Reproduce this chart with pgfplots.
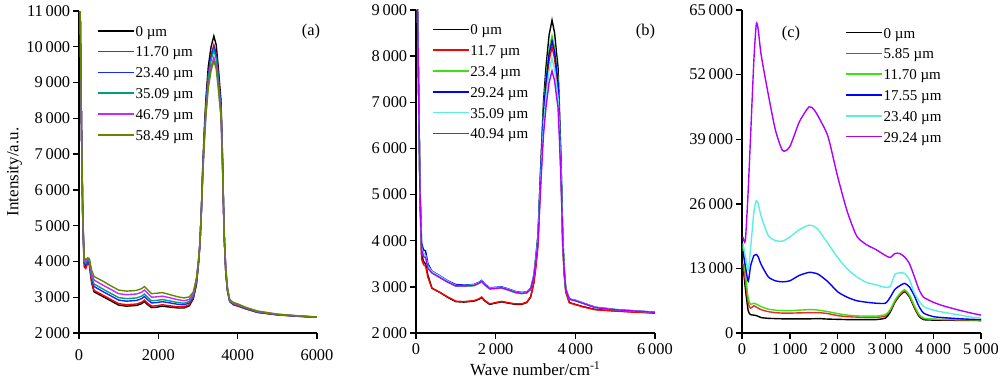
\documentclass[border=0pt]{standalone}
\usepackage{fontspec}
\setmainfont{Liberation Serif}
\usepackage{pgfplots}
\pgfplotsset{compat=1.18}
\usepackage{pgfplotstable}

\definecolor{aRed}{RGB}{255,0,0}
\definecolor{aBlue}{RGB}{20,40,255}
\definecolor{aTeal}{RGB}{0,160,120}
\definecolor{aMag}{RGB}{200,40,255}
\definecolor{aOlive}{RGB}{100,135,0}
\definecolor{bGreen}{RGB}{60,225,20}
\definecolor{bBlue}{RGB}{0,0,255}
\definecolor{bCyan}{RGB}{90,240,220}
\definecolor{bViol}{RGB}{175,0,255}
\definecolor{cRed}{RGB}{240,40,40}

\pgfplotstableread{
x a0 a1 a2 a3 a4 a5
25 11500 11500 11500 11500 11500 11500
60 8000 8000 8000 8000 8000 8000
95 5200 5100 5200 5250 5300 5350
130 4000 3850 3950 4000 4050 4100
170 3850 3800 3900 3950 4000 4050
220 4000 3950 4020 4050 4080 4100
260 3950 3900 3950 4000 4050 4080
320 3400 3420 3500 3560 3650 3750
380 3150 3190 3300 3370 3480 3580
600 3020 3060 3160 3230 3340 3450
800 2900 2940 3040 3110 3220 3320
1000 2780 2820 2920 2990 3100 3200
1200 2750 2790 2890 2960 3070 3170
1450 2770 2810 2910 2980 3090 3190
1580 2820 2860 2960 3030 3140 3240
1650 2880 2920 3020 3090 3200 3300
1720 2800 2840 2940 3010 3120 3220
1830 2710 2750 2840 2900 3000 3100
1950 2720 2760 2850 2910 3010 3110
2100 2750 2790 2875 2935 3030 3130
2250 2730 2765 2850 2905 2995 3085
2500 2700 2730 2800 2850 2930 3010
2650 2700 2730 2790 2830 2900 2980
2780 2760 2790 2840 2880 2940 3010
2880 2950 2980 3010 3040 3090 3140
2960 3350 3378 3421 3460 3491 3530
3010 3900 3906 3942 3970 3982 4010
3050 4500 4482 4510 4526 4518 4534
3090 5600 5538 5552 5546 5500 5494
3120 6650 6546 6546 6519 6438 6411
3160 7700 7554 7540 7492 7376 7328
3200 8550 8370 8345 8280 8135 8070
3260 9450 9234 9198 9115 8938 8855
3330 10000 9762 9718 9624 9430 9336
3400 10300 10050 10000 9900 9700 9600
3460 10050 9810 9766 9671 9474 9379
3510 9450 9234 9198 9115 8938 8855
3550 8900 8706 8677 8605 8447 8375
3580 8500 8322 8298 8234 8090 8026
3610 7300 7170 7162 7122 7019 6979
3625 6600 6498 6499 6473 6393 6367
3645 5500 5442 5457 5453 5411 5407
3665 4600 4578 4605 4619 4607 4621
3700 3700 3714 3752 3784 3804 3836
3740 3200 3210 3230 3250 3270 3290
3800 2880 2880 2890 2900 2910 2930
3900 2790 2790 2800 2815 2830 2850
4000 2760 2755 2770 2785 2800 2815
4200 2680 2675 2690 2700 2710 2720
4500 2580 2575 2585 2595 2605 2615
5000 2510 2505 2512 2518 2522 2528
5500 2470 2468 2472 2476 2480 2484
6000 2440 2440 2442 2444 2446 2448
}\tableA

\pgfplotstableread{
x b0 b1 b2 b3 b4 b5
30 9500 9500 9500 9500 9500 9500
70 7000 7000 7000 7000 7000 7000
100 5000 4900 5100 5150 5100 5050
140 3700 3600 3900 3950 3850 3800
190 3550 3480 3720 3800 3700 3650
240 3500 3450 3700 3780 3680 3640
300 3250 3200 3450 3500 3450 3400
400 2970 2970 3320 3340 3330 3300
600 2880 2880 3220 3240 3230 3200
800 2770 2780 3110 3130 3120 3100
1000 2680 2690 3010 3050 3030 3020
1200 2670 2680 3010 3040 3030 3020
1450 2690 2700 3020 3050 3040 3030
1580 2730 2740 3070 3100 3090 3080
1650 2770 2780 3110 3140 3130 3120
1720 2700 2710 3040 3070 3060 3050
1850 2620 2630 2950 2980 2970 2960
2000 2650 2660 2960 2990 2980 2970
2150 2675 2685 2970 3000 2990 2980
2300 2650 2660 2930 2960 2950 2940
2500 2620 2630 2870 2900 2890 2880
2650 2620 2630 2850 2880 2870 2860
2780 2660 2670 2870 2890 2880 2870
2880 2780 2790 2950 2970 2960 2950
2960 3100 3100 3250 3260 3250 3230
3010 3500 3419 3668 3671 3609 3563
3063 4015 3885 4134 4125 4032 3965
3100 4900 4686 4934 4907 4760 4655
3138 5750 5456 5702 5657 5458 5318
3200 7000 6587 6832 6761 6486 6293
3264 7770 7284 7528 7441 7119 6894
3340 8450 7899 8143 8041 7678 7424
3415 8780 8200 8440 8330 7950 7680
3480 8500 7944 8188 8086 7719 7463
3530 8050 7537 7782 7688 7349 7112
3565 7770 7284 7528 7441 7119 6894
3600 6900 6496 6742 6673 6404 6215
3640 5750 5456 5702 5657 5458 5318
3665 4800 4596 4844 4818 4677 4577
3683 4015 3885 4134 4125 4032 3965
3720 3300 3280 3400 3420 3400 3380
3760 2900 2880 2950 2960 2950 2940
3850 2660 2655 2730 2740 2735 2730
4000 2620 2615 2700 2710 2705 2700
4200 2570 2565 2640 2650 2645 2640
4500 2510 2505 2550 2560 2555 2550
5000 2480 2475 2505 2510 2508 2505
5500 2455 2452 2475 2480 2478 2475
6000 2435 2432 2450 2452 2450 2448
}\tableB

\pgfplotstableread{
x c0 c1 c2 c3 c4 c5
20 13800 14000 17500 16500 18000 19300
70 9000 10500 12000 13500 15500 18600
130 4500 6000 7000 10400 12700 28800
180 3700 5000 5800 13500 17000 39800
250 3600 5500 6000 15600 24500 55200
300 3500 5200 5800 15800 26600 62200
340 3350 5000 5600 15300 26000 61000
400 3100 4700 5300 13800 23500 56000
550 2950 4300 4800 11300 19600 48000
700 2900 4100 4600 10500 18600 40800
850 2850 4000 4500 10300 18500 36700
1000 2850 4000 4500 10500 19300 37500
1200 2850 4050 4600 11600 20800 42500
1400 2850 4100 4700 12200 21700 45500
1500 2870 4100 4700 12100 21500 45000
1600 2900 4100 4600 11800 20700 43500
1800 2800 3900 4300 10300 18000 39500
2000 2750 3500 3900 8300 15200 31500
2200 2700 3300 3600 7200 12900 24500
2400 2700 3200 3450 6500 11300 19500
2600 2700 3150 3400 6200 10200 17800
2800 2700 3150 3400 6000 9700 16800
3000 3000 3400 3700 6000 9200 15600
3100 4200 4500 4700 7200 9400 15200
3200 6200 6400 6600 8800 11800 16000
3300 7500 7700 7900 9500 12100 16000
3400 8300 8500 8700 10000 12000 15300
3500 7300 7500 7700 9300 10800 14000
3600 5200 5400 5600 7600 8200 11500
3700 3400 3600 3800 5400 6500 8800
3800 2700 2900 3000 4000 5300 7200
4000 2600 2750 2800 3300 4600 6200
4200 2580 2700 2750 3100 4200 5500
4500 2550 2650 2700 2900 3700 4700
4800 2520 2620 2650 2750 3200 4000
5000 2500 2600 2600 2700 3000 3600
}\tableC

\pgfplotsset{
  panel/.style={
    scale only axis, clip mode=individual,
    axis x line*=bottom, axis y line*=left,
    axis line style={-, line width=0.7pt},
    tick align=outside, major tick length=3pt,
    tick style={line width=0.7pt, black},
    scaled ticks=false,
    /pgf/number format/assume math mode=true,
    /pgf/number format/1000 sep={\,},
    tick label style={font=\fontsize{8.2}{10}\selectfont, inner sep=1.2pt},
    xticklabel style={yshift=-0.8pt},
    label style={font=\fontsize{8.5}{10}\selectfont},
    legend cell align=left,
    legend style={draw=none, fill=none, font=\fontsize{7.5}{9}\selectfont,
      anchor=north west, inner sep=0pt, outer sep=0pt, row sep=0pt,
      nodes={inner sep=0.5pt, text height=7.4pt, text depth=2pt}},
    legend image code/.code={\draw[##1, line width=0.8pt] (0pt,0pt) -- (18pt,0pt);},
    every axis plot/.append style={line width=0.7pt, mark=none},
  }
}

\begin{document}
\begin{tikzpicture}
\useasboundingbox (-39.5pt,-23.5pt) rectangle (460.5pt,166.5pt);

% (a)
\begin{axis}[panel, at={(0pt,0pt)}, anchor=south west, width=119pt, height=161pt,
  xmin=0, xmax=6000, ymin=2000, ymax=11000,
  xtick={0,2000,4000,6000}, ytick={2000,3000,...,11000},
  xticklabel style={/pgf/number format/1000 sep={}, yshift=-3pt},
  ylabel={Intensity/a.u.},
  ylabel style={at={(axis description cs:-0.271,0.5)}, anchor=center},
  legend style={at={(0.0756,0.971)}}]
\addplot[black] table[x=x,y=a0]{\tableA};
\addplot[aRed] table[x=x,y=a1]{\tableA};
\addplot[aBlue] table[x=x,y=a2]{\tableA};
\addplot[aTeal] table[x=x,y=a3]{\tableA};
\addplot[aMag] table[x=x,y=a4]{\tableA};
\addplot[aOlive] table[x=x,y=a5]{\tableA};
\legend{0 µm, 11.70 µm, 23.40 µm, 35.09 µm, 46.79 µm, 58.49 µm}
\node[font=\fontsize{8.2}{10}\selectfont] at (rel axis cs:0.975,0.936) {(a)};
\end{axis}

% (b)
\begin{axis}[panel, at={(168.5pt,0pt)}, anchor=south west, width=119.5pt, height=161.5pt,
  xmin=0, xmax=6000, ymin=2000, ymax=9000,
  xtick={0,2000,4000,6000}, ytick={2000,3000,...,9000},
  xlabel={Wave number/cm\textsuperscript{-1}},
  xlabel style={at={(axis description cs:0.5,0)}, anchor=center, yshift=-18pt},
  legend style={at={(0.066,0.972)}}]
\addplot[black] table[x=x,y=b0]{\tableB};
\addplot[aRed] table[x=x,y=b1]{\tableB};
\addplot[bGreen] table[x=x,y=b2]{\tableB};
\addplot[bBlue] table[x=x,y=b3]{\tableB};
\addplot[bCyan] table[x=x,y=b4]{\tableB};
\addplot[bViol] table[x=x,y=b5]{\tableB};
\legend{0 µm, 11.7 µm, 23.4 µm, 29.24 µm, 35.09 µm, 40.94 µm}
\node[font=\fontsize{8.2}{10}\selectfont] at (rel axis cs:0.960,0.933) {(b)};
\end{axis}

% (c)
\begin{axis}[panel, at={(331.5pt,0pt)}, anchor=south west, width=119.5pt, height=161.5pt,
  xmin=0, xmax=5000, ymin=0, ymax=65000,
  xtick={0,1000,...,5000}, ytick={0,13000,26000,39000,52000,65000},
  legend style={at={(0.431,0.962)}}]
\addplot[black, smooth, tension=0.4] table[x=x,y=c0]{\tableC};
\addplot[cRed, smooth, tension=0.4] table[x=x,y=c1]{\tableC};
\addplot[bGreen, smooth, tension=0.4] table[x=x,y=c2]{\tableC};
\addplot[bBlue, smooth, tension=0.4] table[x=x,y=c3]{\tableC};
\addplot[bCyan, smooth, tension=0.4] table[x=x,y=c4]{\tableC};
\addplot[bViol, smooth, tension=0.4] table[x=x,y=c5]{\tableC};
\legend{0 µm, 5.85 µm, 11.70 µm, 17.55 µm, 23.40 µm, 29.24 µm}
\node[font=\fontsize{8.2}{10}\selectfont] at (rel axis cs:0.205,0.928) {(c)};
\end{axis}
\end{tikzpicture}
\end{document}
